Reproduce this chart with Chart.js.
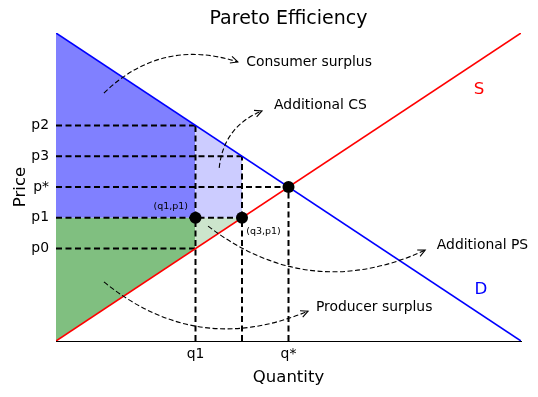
<!DOCTYPE html>
<html>
<head>
<meta charset="utf-8">
<script src="https://cdn.jsdelivr.net/npm/chart.js@4"></script>
<style>
  html, body { margin: 0; padding: 0; background: #fff; }
  #wrap { width: 538px; height: 397px; }
</style>
</head>
<body>
<div id="wrap"><canvas id="chart" width="538" height="397"></canvas></div>
<script>
// supply / demand
const quantities = [0, 10];
const demandPrices = [10, 0];
const supplyPrices = [0, 10];

// ticks
const xTickValues = [3, 5];
const xTickLabels = ['q1', 'q*'];
const yTickValues = [3, 4, 5, 6, 7];
const yTickLabels = ['p0', 'p1', 'p*', 'p3', 'p2'];

// marked points
const markerQ = [3, 4, 5];
const markerP = [4, 4, 5];

// dashed guides: horizontal from 0 to q at p, vertical from 0 to p at q
const hGuideQ = [3, 4, 5, 4, 3];
const hGuideP = [7, 6, 5, 4, 3];
const vGuideQ = [3, 4, 5];
const vGuideP = [7, 6, 5];

// surplus regions (filled against p1)
const fillLevel = 4;
const csQ = [0, 3], csP = [10, 7];
const addCsQ = [3, 4], addCsP = [7, 6];
const psQ = [0, 3], psP = [0, 3];
const addPsQ = [3, 4], addPsP = [3, 4];

// annotations: [text, x, y, arrow start x, y, arrow end x, y, rad]
const arrowNotes = [
    ['Consumer surplus', 4.09, 9.03, 1.03, 8.05, 3.91, 9.06, 0.3],
    ['Additional CS', 4.69, 7.66, 3.51, 5.62, 4.43, 7.47, 0.3],
    ['Additional PS', 8.19, 3.12, 3.27, 3.73, 7.94, 2.95, -0.3],
    ['Producer surplus', 5.59, 1.10, 1.03, 1.92, 5.42, 0.97, -0.3]
];
const pointNotes = [
    ['(q1,p1)', 2.84, 4.38, 'right'],
    ['(q3,p1)', 4.09, 3.57, 'left']
];
const curveNotes = [
    ['S', 9.1, 8.15, '#ff0000'],
    ['D', 9.14, 1.66, '#0000ff']
];

const FONT = "'DejaVu Sans', sans-serif";

function pts(xs, ys) {
    return xs.map((x, i) => ({ x: x, y: ys[i] }));
}

const datasets = [];

function addFill(xs, ys, color) {
    datasets.push({
        data: pts(xs, ys),
        showLine: true,
        borderWidth: 0,
        borderColor: 'rgba(0,0,0,0)',
        backgroundColor: color,
        pointRadius: 0,
        fill: { value: fillLevel },
        order: 4
    });
}
addFill(csQ, csP, '#8080ff');
addFill(addCsQ, addCsP, '#ccccff');
addFill(psQ, psP, '#80bf80');
addFill(addPsQ, addPsP, '#cce5cc');

function addGuide(data) {
    datasets.push({
        data: data,
        showLine: true,
        borderColor: '#000',
        borderWidth: 2,
        borderDash: [6, 3.5],
        pointRadius: 0,
        fill: false,
        order: 3
    });
}
hGuideQ.forEach((q, i) => addGuide([{ x: 0, y: hGuideP[i] }, { x: q, y: hGuideP[i] }]));
vGuideQ.forEach((q, i) => addGuide([{ x: q, y: 0 }, { x: q, y: vGuideP[i] }]));

datasets.push({
    data: pts(quantities, demandPrices),
    showLine: true, borderColor: '#0000ff', borderWidth: 1.6,
    pointRadius: 0, fill: false, order: 2
});
datasets.push({
    data: pts(quantities, supplyPrices),
    showLine: true, borderColor: '#ff0000', borderWidth: 1.6,
    pointRadius: 0, fill: false, order: 2
});
datasets.push({
    data: pts(markerQ, markerP),
    showLine: false, pointRadius: 6, pointBackgroundColor: '#000',
    pointBorderColor: '#000', pointBorderWidth: 0, order: 1
});

// title + text + curved arrows
const notesPlugin = {
    id: 'notes',
    afterDraw(chart) {
        const ctx = chart.ctx;
        const xs = chart.scales.x, ys = chart.scales.y;
        const area = chart.chartArea;
        ctx.save();

        ctx.fillStyle = '#000';
        ctx.font = `19px ${FONT}`;
        ctx.textAlign = 'center';
        ctx.textBaseline = 'middle';
        ctx.fillText('Pareto Efficiency', (area.left + area.right) / 2, 19.5);

        ctx.font = `13.9px ${FONT}`;
        ctx.textAlign = 'left';
        arrowNotes.forEach(n => {
            ctx.fillStyle = '#000';
            ctx.fillText(n[0], xs.getPixelForValue(n[1]), ys.getPixelForValue(n[2]));

            const x1 = xs.getPixelForValue(n[3]), y1 = ys.getPixelForValue(n[4]);
            const x2 = xs.getPixelForValue(n[5]), y2 = ys.getPixelForValue(n[6]);
            const dx = x2 - x1, dy = y2 - y1;
            const cx = (x1 + x2) / 2 + n[7] * dy;
            const cy = (y1 + y2) / 2 - n[7] * dx;

            ctx.strokeStyle = '#000';
            ctx.lineWidth = 1.1;
            ctx.setLineDash([5, 2.5]);
            ctx.beginPath();
            ctx.moveTo(x1, y1);
            ctx.quadraticCurveTo(cx, cy, x2, y2);
            ctx.stroke();

            ctx.setLineDash([]);
            const ang = Math.atan2(y2 - cy, x2 - cx);
            const len = 8;
            ctx.beginPath();
            ctx.moveTo(x2 - len * Math.cos(ang - 0.45), y2 - len * Math.sin(ang - 0.45));
            ctx.lineTo(x2, y2);
            ctx.lineTo(x2 - len * Math.cos(ang + 0.45), y2 - len * Math.sin(ang + 0.45));
            ctx.stroke();
        });

        ctx.font = `9.5px ${FONT}`;
        pointNotes.forEach(n => {
            ctx.textAlign = n[3];
            ctx.fillText(n[0], xs.getPixelForValue(n[1]), ys.getPixelForValue(n[2]));
        });

        ctx.font = `16.7px ${FONT}`;
        ctx.textAlign = 'center';
        curveNotes.forEach(n => {
            ctx.fillStyle = n[3];
            ctx.fillText(n[0], xs.getPixelForValue(n[1]), ys.getPixelForValue(n[2]));
        });
        ctx.restore();
    }
};

new Chart(document.getElementById('chart'), {
    type: 'scatter',
    data: { datasets: datasets },
    options: {
        responsive: false,
        animation: false,
        layout: { padding: { top: 33, right: 17, left: 0, bottom: 0 } },
        plugins: {
            legend: { display: false },
            tooltip: { enabled: false },
            title: { display: false }
        },
        scales: {
            x: {
                type: 'linear', min: 0, max: 10,
                afterFit: (s) => { s.height = 56; },
                afterBuildTicks: (s) => { s.ticks = xTickValues.map(v => ({ value: v })); },
                grid: { display: false, drawTicks: false },
                border: { display: true, color: '#000', width: 1 },
                ticks: {
                    autoSkip: false, maxRotation: 0, padding: 5, color: '#000',
                    font: { family: FONT, size: 13.9 },
                    callback: (v) => xTickLabels[xTickValues.indexOf(v)]
                },
                title: {
                    display: true, text: 'Quantity', color: '#000',
                    font: { family: FONT, size: 16.5 }, padding: 9
                }
            },
            y: {
                type: 'linear', min: 0, max: 10,
                afterFit: (s) => { s.width = 56; },
                afterBuildTicks: (s) => { s.ticks = yTickValues.map(v => ({ value: v })); },
                grid: { display: false, drawTicks: false },
                border: { display: true, color: '#000', width: 1 },
                ticks: {
                    autoSkip: false, padding: 7, color: '#000',
                    font: { family: FONT, size: 13.9 },
                    callback: (v) => yTickLabels[yTickValues.indexOf(v)]
                },
                title: {
                    display: true, text: 'Price', color: '#000',
                    font: { family: FONT, size: 16.5 }, padding: 11
                }
            }
        }
    },
    plugins: [notesPlugin]
});
</script>
</body>
</html>
